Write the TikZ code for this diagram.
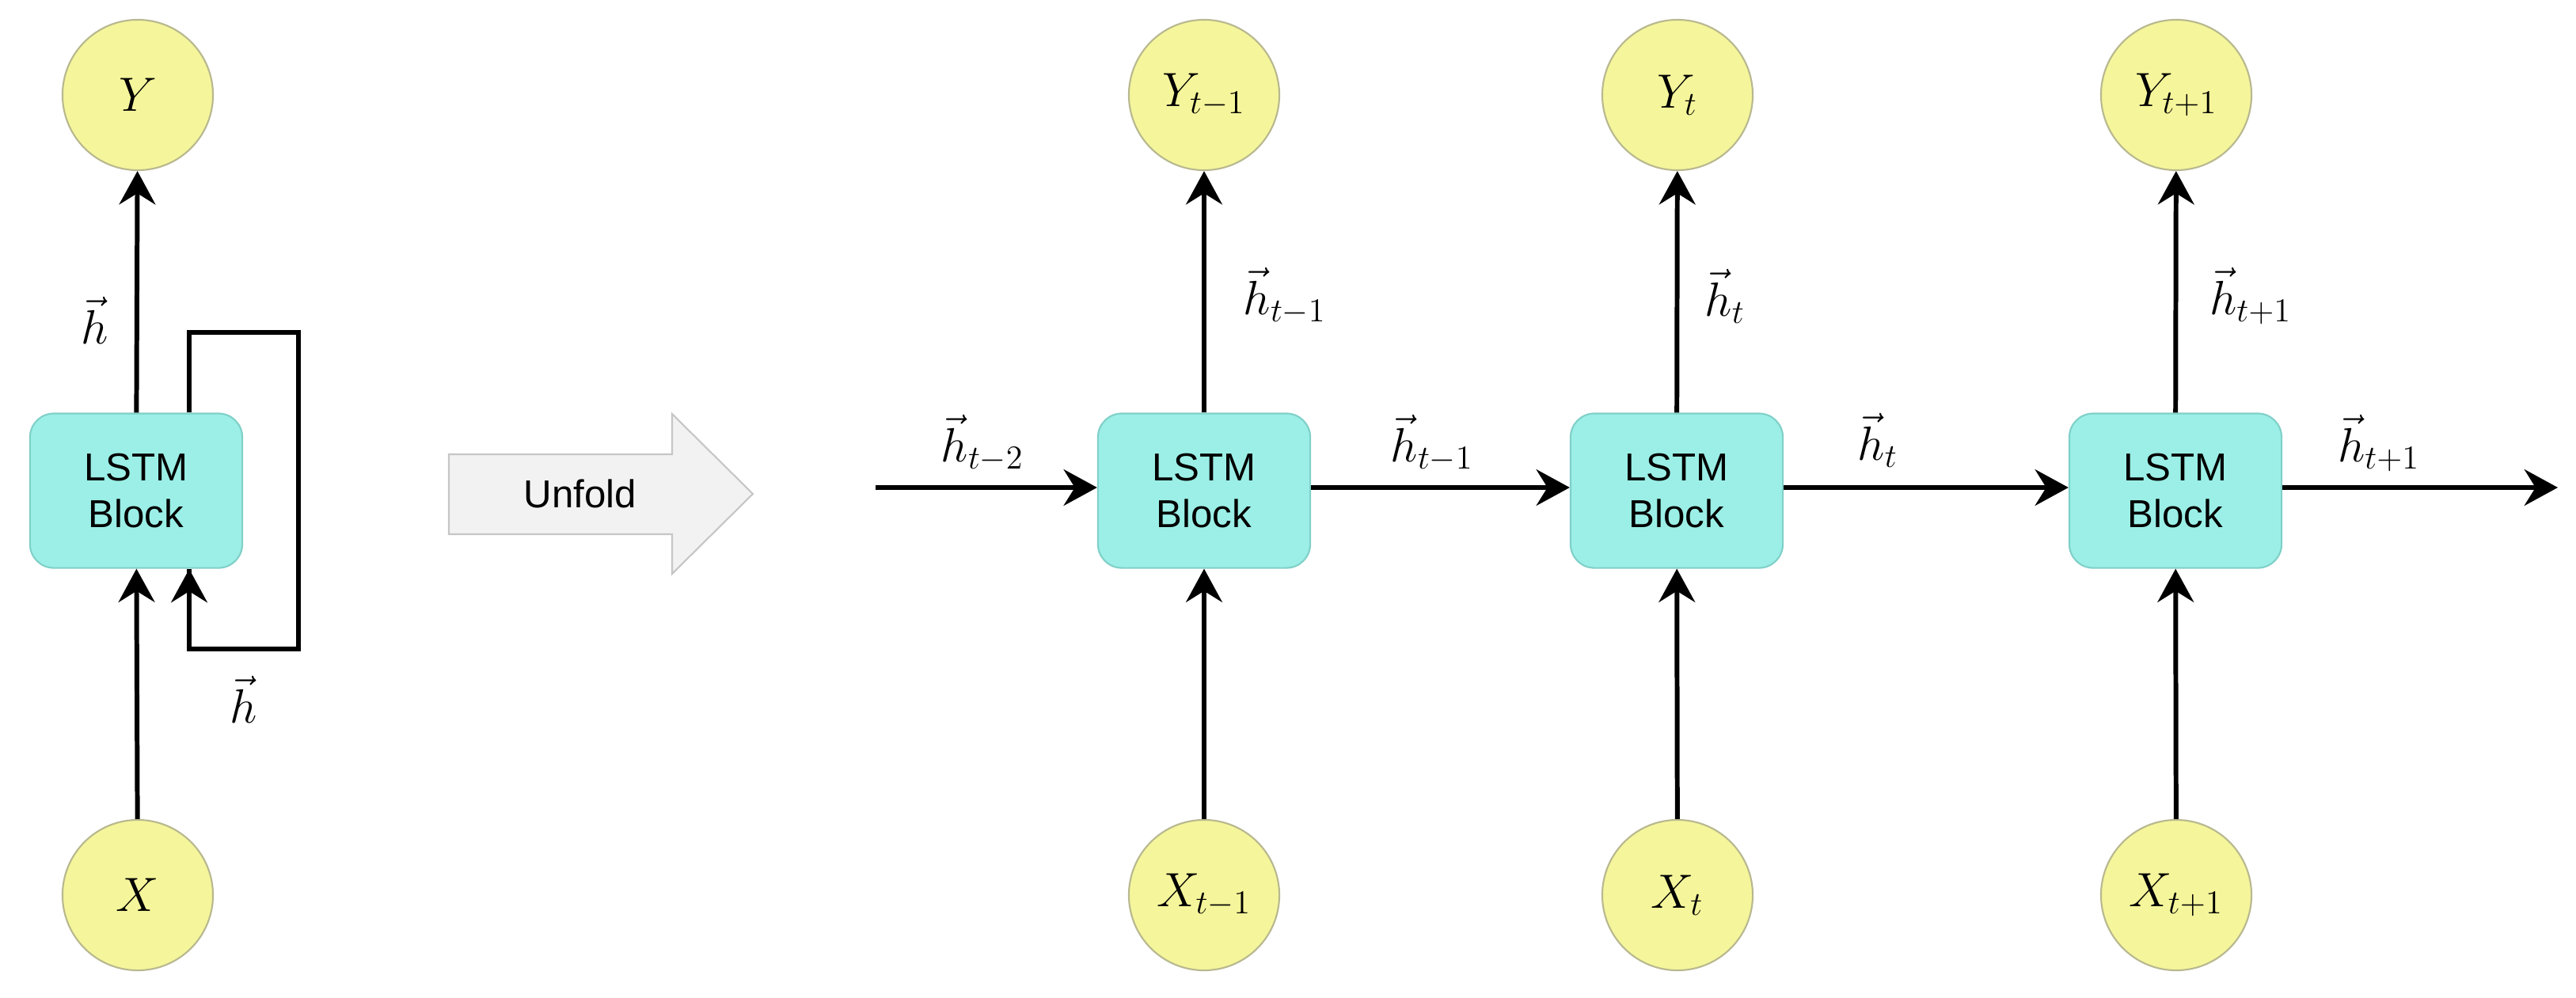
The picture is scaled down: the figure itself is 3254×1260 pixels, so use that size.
\documentclass[tikz,border=0pt]{standalone}
\usepackage{fontspec}
\setmainfont{Liberation Sans}
\usetikzlibrary{arrows.meta}
\definecolor{cy}{HTML}{F5F59B}
\definecolor{cyb}{HTML}{B8B890}
\definecolor{bl}{HTML}{9BEFE6}
\definecolor{blb}{HTML}{80D0C8}
\begin{document}
\begin{tikzpicture}[x=0.01cm,y=-0.01cm,
  io/.style={circle,fill=cy,draw=cyb,line width=0.6pt,minimum size=1.9cm,inner sep=0pt,font=\fontsize{18}{21}\selectfont},
  blk/.style={rectangle,rounded corners=0.3cm,fill=bl,draw=blb,line width=0.6pt,minimum width=2.68cm,minimum height=1.95cm,align=center,font=\fontsize{14}{17}\selectfont},
  ar/.style={line width=1.7pt,-{Stealth[length=12pt,width=13pt,inset=4pt]}},
  ln/.style={line width=1.7pt},
  lab/.style={font=\fontsize{18}{21}\selectfont,inner sep=0pt}]
\useasboundingbox (0,0) rectangle (3254,1260);
% left
\node[io] (Y) at (174,120) {$Y$};
\node[io] (X) at (174,1131) {$X$};
\node[blk] (lb) at (172,620) {LSTM\\Block};
\draw[ar] (X) -- (lb);
\draw[ar] (lb) -- (Y);
\coordinate (l1) at (239,521);
\coordinate (l2) at (239,420);
\coordinate (l3) at (377,420);
\coordinate (l4) at (377,820);
\coordinate (l5) at (239,820);
\coordinate (l6) at (239,719);
\draw[ln,line join=miter] (l1) -- (l2) -- (l3) -- (l4) -- (l5) -- (l6);
\draw[ar] (l5) -- (l6);
\node[lab] (hl1) at (120,405) {$\vec{h}$};
\node[lab] (hl2) at (308,884) {$\vec{h}$};
% unfold
\draw[fill=gray!10,draw=gray!45,line width=0.6pt] (567,574) -- (849,574) -- (849,523) -- (951,624) -- (849,725) -- (849,675) -- (567,675) -- cycle;
\node[font=\fontsize{14}{17}\selectfont] (uf) at (733,624) {Unfold};
% right
\foreach \n/\x in {a/1521,b/2118,c/2748}{
  \node[blk] (b\n) at (\x,620) {LSTM\\Block};
}
\node[io] (Ya) at (1521,120) {$Y_{t-1}$};
\node[io] (Yb) at (2119,120) {$Y_{t}$};
\node[io] (Yc) at (2749,120) {$Y_{t+1}$};
\node[io] (Xa) at (1521,1131) {$X_{t-1}$};
\node[io] (Xb) at (2119,1131) {$X_{t}$};
\node[io] (Xc) at (2749,1131) {$X_{t+1}$};
\foreach \n in {a,b,c}{
  \draw[ar] (X\n) -- (b\n);
  \draw[ar] (b\n) -- (Y\n);
}
\coordinate (in) at (1106,616);
\coordinate (out) at (3231,616);
\draw[ar] (in) -- (ba.west |- in);
\draw[ar] (ba.east |- in) -- (bb.west |- in);
\draw[ar] (bb.east |- in) -- (bc.west |- in);
\draw[ar] (bc.east |- in) -- (out);
\node[lab] (h1) at (1241,560) {$\vec{h}_{t-2}$};
\node[lab] (h2) at (1809,560) {$\vec{h}_{t-1}$};
\node[lab] (h3) at (2372,556) {$\vec{h}_{t}$};
\node[lab] (h4) at (3005,560) {$\vec{h}_{t+1}$};
\node[lab] (v1) at (1623,374) {$\vec{h}_{t-1}$};
\node[lab] (v2) at (2179,374) {$\vec{h}_{t}$};
\node[lab] (v3) at (2843,374) {$\vec{h}_{t+1}$};
\end{tikzpicture}
\end{document}
